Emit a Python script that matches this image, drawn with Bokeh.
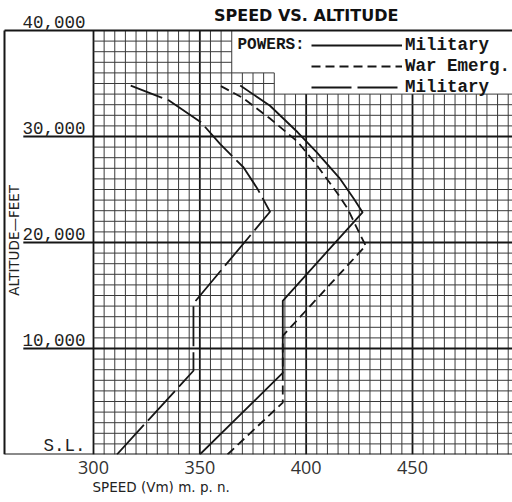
import numpy as np
from bokeh.plotting import figure
from bokeh.models import FixedTicker, Title, Legend, LegendItem, Range1d
from bokeh.core.properties import value
from bokeh.embed import file_html
from bokeh.resources import INLINE

# ---------------- data ----------------
mil_speed = [350, 389, 389, 426.5, 422.5, 416, 405, 396, 383, 369]
mil_alt = [0, 7700, 14500, 22850, 24100, 26000, 28500, 30400, 32900, 34800]

war_speed = [363, 389, 389, 428, 424, 419.5, 414.5, 405, 396, 383, 370.5, 359.5]
war_alt = [0, 4900, 11200, 19700, 21300, 23200, 24700, 27300, 29500, 31700, 33600, 34800]

mil2_speed = [311, 347, 347, 383, 377, 370.5, 359.5, 350.5, 335.5, 317.5]
mil2_alt = [0, 7900, 14250, 22900, 25100, 27100, 29300, 31350, 33400, 34800]

x_ticks = [300, 350, 400, 450]
y_ticks = [0, 10000, 20000, 30000, 40000]
y_labels = ["S.L.", "10,000", "20,000", "30,000", "40,000"]
series_labels = ["Military", "War Emerg.", "Military"]

# ---------------- figure ----------------
PX = 2.1267          # pixels per mph
PY = 0.0106          # pixels per foot
X0 = 300 - 93 / PX   # left edge of the figure
X1 = 300 + 419 / PX  # right edge of the figure
Y0, Y1 = 0, 40000 + 30 / PY
XB = 300 - 89 / PX   # left border of the sheet
INK = "#161616"
GRID = "#3a3a3a"

p = figure(width=512, height=502, x_range=Range1d(X0, X1), y_range=Range1d(Y0, Y1),
           output_backend="svg", toolbar_location=None, y_axis_location=None,
           min_border_left=0, min_border_right=0, min_border_top=0, min_border_bottom=48,
           background_fill_color="white", border_fill_color="white")
p.xgrid.visible = False
p.ygrid.visible = False
p.outline_line_color = None

# ---------------- graph-paper grid ----------------
vx = np.arange(300, 496, 5)
vtop = np.where(vx <= 365, 40000, np.where(vx <= 385, 36000, 34000))
thin_v = vx % 50 != 0
p.segment(x0=vx[thin_v], y0=0, x1=vx[thin_v], y1=vtop[thin_v], line_color=GRID, line_width=1)
p.segment(x0=vx[~thin_v], y0=0, x1=vx[~thin_v], y1=vtop[~thin_v], line_color=INK, line_width=1.8)

hy = np.arange(1000, 40000, 1000)
hright = np.where(hy <= 34000, X1, np.where(hy <= 36000, 385, 365))
thin_h = hy % 10000 != 0
p.segment(x0=300, y0=hy[thin_h], x1=hright[thin_h], y1=hy[thin_h], line_color=GRID, line_width=1)
# heavy lines that also underline the altitude labels
p.segment(x0=267, y0=hy[~thin_h], x1=hright[~thin_h], y1=hy[~thin_h], line_color=INK, line_width=1.8)

# sheet border: left, top, bottom
p.segment(x0=[XB, XB, XB], y0=[0, 40000, 0], x1=[XB, X1, X1], y1=[40000, 40000, 0],
          line_color=INK, line_width=2)

# ---------------- curves ----------------
r1 = p.line(mil_speed, mil_alt, line_color=INK, line_width=1.8, line_join="round")
r2 = p.line(war_speed, war_alt, line_color=INK, line_width=1.8, line_dash="9 5", line_join="round")
r3 = p.line(mil2_speed, mil2_alt, line_color=INK, line_width=1.8, line_dash="40 6", line_join="round")

legend = Legend(items=[LegendItem(label=series_labels[0], renderers=[r1]),
                       LegendItem(label=series_labels[1], renderers=[r2]),
                       LegendItem(label=series_labels[2], renderers=[r3])],
                location=(311, 357), orientation="vertical", padding=0, margin=0,
                spacing=1, glyph_width=91, glyph_height=20, label_height=20,
                label_standoff=3, label_text_font="Liberation Mono",
                label_text_font_style="bold", label_text_font_size="17.5px",
                label_text_color=INK, border_line_color=None, background_fill_alpha=0)
p.add_layout(legend)

p.text(x=[367.7], y=[38600], text=["POWERS:"], text_align="left", text_baseline="middle",
       text_font=value("Liberation Mono"), text_font_style="bold", text_font_size="16px",
       text_color=INK)

# ---------------- title ----------------
p.text(x=[400.0], y=[40000], text=["SPEED VS. ALTITUDE"], text_align="center",
       text_baseline="middle", y_offset=-15, text_font=value("DejaVu Sans"),
       text_font_style="bold", text_font_size="16px", text_color="#111111")

# ---------------- altitude labels ----------------
p.text(x=[296.2] * len(y_ticks), y=y_ticks, text=y_labels, text_align="right",
       text_baseline="middle", y_offset=-9, text_font=value("Liberation Mono"),
       text_font_size="17.5px", text_color="#222222")

p.text(x=[262.6], y=[20200], text=["ALTITUDE\u2014FEET"], angle=np.pi / 2,
       text_align="center", text_baseline="middle", text_font=value("DejaVu Sans"),
       text_font_size="13.5px", text_color="#222222")

# ---------------- speed axis ----------------
p.xaxis.ticker = FixedTicker(ticks=x_ticks)
p.xaxis.axis_line_color = None
p.xaxis.major_tick_line_color = None
p.xaxis.minor_tick_line_color = None
p.xaxis.major_label_standoff = 0
p.xaxis.major_label_text_font = "Open Sans"
p.xaxis.major_label_text_font_size = "18px"
p.xaxis.major_label_text_color = "#333333"

p.add_layout(Title(text="SPEED (Vm) m. p. n.", align="left", offset=92,
                   text_font="DejaVu Sans", text_font_style="normal",
                   text_font_size="13.5px", text_color="#222222", standoff=0), "below")

open("out.html", "w").write(file_html(p, INLINE))
